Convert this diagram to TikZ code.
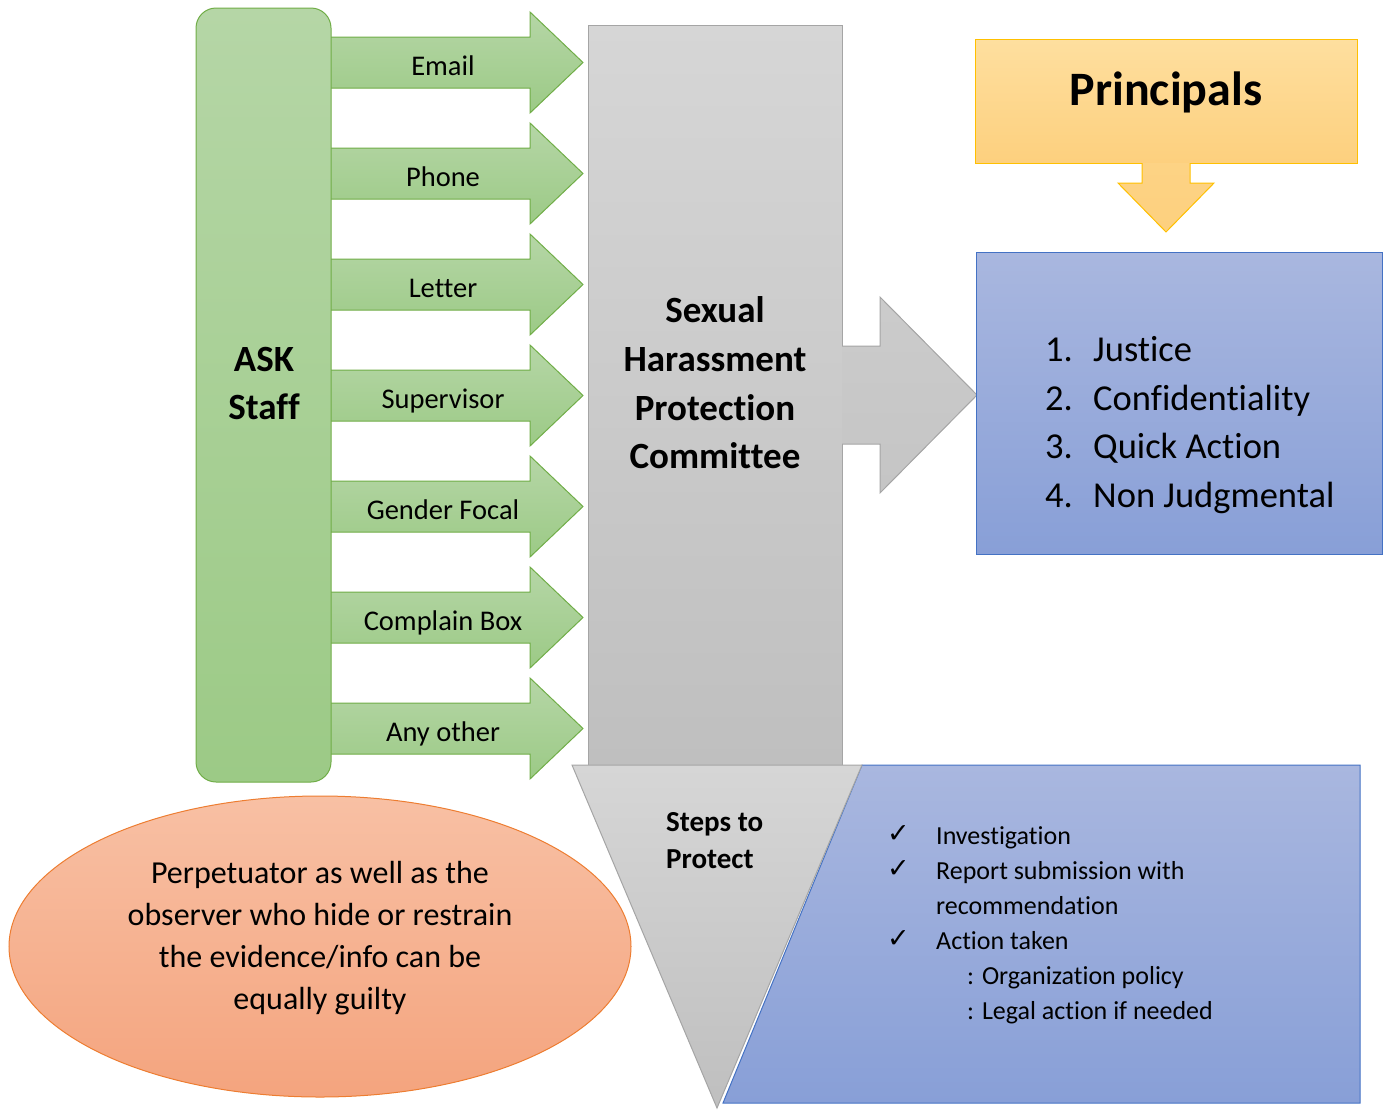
\documentclass[tikz,border=0pt]{standalone}
\usepackage{fontspec}
\setmainfont{Carlito}[Ligatures=NoCommon]
\newfontfamily\symfont{DejaVu Sans}
\usetikzlibrary{shapes.geometric}
\definecolor{grnline}{HTML}{70AD47}
\definecolor{grntop}{HTML}{B5D6A6}
\definecolor{grnbot}{HTML}{9CCA86}
\definecolor{gryline}{HTML}{A5A5A5}
\definecolor{grytop}{HTML}{D6D6D6}
\definecolor{grybot}{HTML}{BFBFBF}
\definecolor{blueline}{HTML}{4472C4}
\definecolor{bluetop}{HTML}{A9B7DF}
\definecolor{bluebot}{HTML}{889FD7}
\definecolor{yelline}{HTML}{FFC000}
\definecolor{yeltop}{HTML}{FEDF9F}
\definecolor{yelbot}{HTML}{FDD07E}
\definecolor{orline}{HTML}{ED7D31}
\definecolor{ortop}{HTML}{F8C0A4}
\definecolor{orbot}{HTML}{F4A47E}
\tikzset{
  grnshape/.style={draw=grnline, line width=1pt, top color=grntop, bottom color=grnbot},
  gryshape/.style={draw=gryline, line width=1pt, top color=grytop, bottom color=grybot},
  blueshape/.style={draw=blueline, line width=1pt, top color=bluetop, bottom color=bluebot},
  yelshape/.style={draw=yelline, line width=1pt, top color=yeltop, bottom color=yelbot},
  orshape/.style={draw=orline, line width=1pt, top color=ortop, bottom color=orbot},
  chanlbl/.style={anchor=base, inner sep=0pt, font=\fontsize{28.5}{34}\selectfont},
  boldbig/.style={anchor=base, inner sep=0pt, font=\fontsize{37}{44}\selectfont\bfseries},
  listtxt/.style={anchor=base west, inner sep=0pt, font=\fontsize{36.5}{44}\selectfont},
  stepstxt/.style={anchor=base west, inner sep=0pt, font=\fontsize{29}{34}\selectfont\bfseries},
  checktxt/.style={anchor=base west, inner sep=0pt, font=\fontsize{26}{30}\selectfont},
  checkmk/.style={anchor=base west, inner sep=0pt, font=\fontsize{27}{30}\selectfont\symfont},
  elltxt/.style={anchor=base, inner sep=0pt, font=\fontsize{32}{38}\selectfont},
}
\newcommand\chanarrow[3]{%
  \draw[grnshape] (331,#1-25.5) -- (530,#1-25.5) -- (530,#1-50.5) -- (583,#1)
     -- (530,#1+50.5) -- (530,#1+25.5) -- (331,#1+25.5);
  \node[chanlbl] (#3) at (443,#1+12.5) {#2};}
\begin{document}
\begin{tikzpicture}[x=1pt,y=-1pt]
\useasboundingbox (0,0) rectangle (1390,1109);
% channel arrows
\chanarrow{62.5}{Email}{email}
\chanarrow{173.5}{Phone}{phone}
\chanarrow{284.5}{Letter}{letter}
\chanarrow{395.5}{Supervisor}{superv}
\chanarrow{506.5}{Gender Focal}{gender}
\chanarrow{617.5}{Complain Box}{compl}
\chanarrow{728.5}{Any other}{anyother}
% ASK Staff box
\draw[grnshape, rounded corners=20pt] (196,8) rectangle (331,782);
\node[boldbig] (ask) at (264,371) {ASK};
\node[boldbig] (staff) at (264,419) {Staff};
% committee
\draw[gryshape] (588,25) rectangle (842,765);
\draw[gryshape, top color=grytop!95!black, bottom color=grytop!92!black] (842,346) -- (880,346) -- (880,297) -- (977,395) -- (880,493) -- (880,444) -- (842,444);
\node[boldbig] (c1) at (715,322) {Sexual};
\node[boldbig] (c2) at (715,371) {Harassment};
\node[boldbig] (c3) at (715,420) {Protection};
\node[boldbig] (c4) at (715,468) {Committee};
% principals
\draw[yelshape] (975,39) rectangle (1357,163);
\draw[yelshape, top color=yelbot!80!yeltop, bottom color=yelbot] (1142,163) -- (1142,183) -- (1118,183) -- (1166,232) -- (1214,183) -- (1190,183) -- (1190,163);
\node[anchor=base, inner sep=0pt, font=\fontsize{48}{56}\selectfont\bfseries] (princ) at (1166,105) {Principals};
% principles list
\draw[blueshape] (976,252) rectangle (1382,554);
\foreach \n/\t/\y in {1/Justice/361, 2/Confidentiality/410, 3/Quick Action/458, 4/Non Judgmental/507}{
  \node[listtxt] (num\n) at (1045,\y) {\n.};
  \node[listtxt] (item\n) at (1093,\y) {\t};
}
% steps
\draw[blueshape] (862,765) -- (1360,765) -- (1360,1103) -- (723,1103) -- cycle;
\draw[gryshape] (572,765) -- (862,765) -- (717,1108) -- cycle;
\node[stepstxt] (st1) at (666,831) {Steps to};
\node[stepstxt] (st2) at (666,868) {Protect};
\foreach \y/\nm in {844/a, 879/b, 949/c}{
  \node[checkmk] (chk\nm) at (887,\y-2) {✓};
}
\node[checktxt] (s1) at (936,844) {Investigation};
\node[checktxt] (s2) at (936,879) {Report submission with};
\node[checktxt] (s3) at (936,914) {recommendation};
\node[checktxt] (s4) at (936,949) {Action taken};
\node[checktxt] (s5) at (967,984) {: Organization policy};
\node[checktxt] (s6) at (967,1019) {: Legal action if needed};
% ellipse
\node[orshape, ellipse, minimum width=622pt, minimum height=301pt, inner sep=0pt] (ell) at (320,946.5) {};
\node[elltxt] (e1) at (320,883) {Perpetuator as well as the};
\node[elltxt] (e2) at (320,925) {observer who hide or restrain};
\node[elltxt] (e3) at (320,967) {the evidence/info can be};
\node[elltxt] (e4) at (320,1009) {equally guilty};
\end{tikzpicture}
\end{document}
